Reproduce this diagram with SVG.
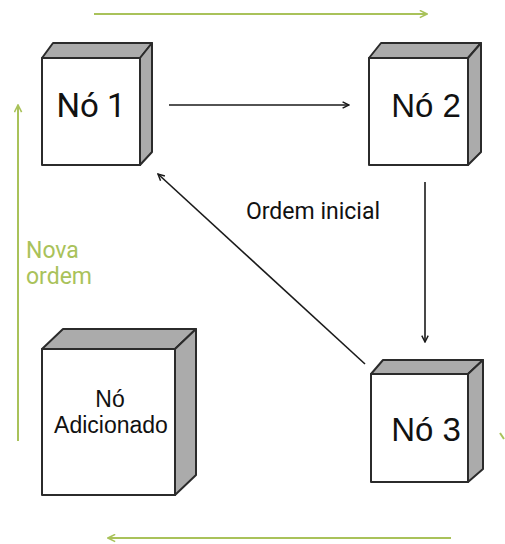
<svg xmlns="http://www.w3.org/2000/svg" width="505" height="544" viewBox="0 0 505 544">
  <defs>
    <style>
      .front { fill: #ffffff; stroke: #2b2b2b; stroke-width: 2; stroke-linejoin: round; }
      .shade { fill: #ababab; stroke: #2b2b2b; stroke-width: 2; stroke-linejoin: round; }
      .label { font-family: Roboto, "Liberation Sans", sans-serif; fill: #111111; text-anchor: middle; }
      .link { stroke: #1a1a1a; stroke-width: 1.6; fill: none; }
      .flow { stroke: #a9c25a; stroke-width: 2; fill: none; }
      .flowtext { font-family: Roboto, "Liberation Sans", sans-serif; font-size: 23px; fill: #a9c25a; }
    </style>
    <marker id="arrowBlack" viewBox="0 0 10 10" refX="9" refY="5" markerWidth="8" markerHeight="8" markerUnits="userSpaceOnUse" orient="auto">
      <path d="M1,1 L9,5 L1,9" fill="none" stroke="#1a1a1a" stroke-width="1.8"/>
    </marker>
    <marker id="arrowGreen" viewBox="0 0 10 10" refX="9" refY="5" markerWidth="9" markerHeight="9" markerUnits="userSpaceOnUse" orient="auto">
      <path d="M1,1 L9,5 L1,9" fill="none" stroke="#a9c25a" stroke-width="1.8"/>
    </marker>
  </defs>

  <rect width="505" height="544" fill="#ffffff"/>

  <!-- process order flow (green) -->
  <g id="flow">
    <line class="flow" x1="94" y1="14" x2="427" y2="14" marker-end="url(#arrowGreen)"/>
    <line class="flow" x1="18" y1="441" x2="18" y2="105" marker-end="url(#arrowGreen)"/>
    <line class="flow" x1="451" y1="538" x2="108" y2="538" marker-end="url(#arrowGreen)"/>
    <line class="flow" x1="500" y1="433" x2="504" y2="439"/>
    <text class="flowtext" x="26" y="258">Nova</text>
    <text class="flowtext" x="26" y="284">ordem</text>
  </g>

  <!-- connectors -->
  <g id="connectors">
    <line class="link" x1="169" y1="105" x2="349" y2="105" marker-end="url(#arrowBlack)"/>
    <line class="link" x1="425" y1="182" x2="425" y2="342" marker-end="url(#arrowBlack)"/>
    <line class="link" x1="365" y1="364" x2="158" y2="174" marker-end="url(#arrowBlack)"/>
    <text class="label" x="313" y="219" font-size="23">Ordem inicial</text>
  </g>

  <!-- node 1 -->
  <g id="node1">
    <polygon class="shade" points="42,58 53,43 152,43 140,58"/>
    <polygon class="shade" points="140,58 152,43 152,152 140,165"/>
    <rect class="front" x="42" y="58" width="98" height="107"/>
    <text class="label" x="91" y="117" font-size="33">Nó 1</text>
  </g>

  <!-- node 2 -->
  <g id="node2">
    <polygon class="shade" points="369,58 381,43 481,43 468,58"/>
    <polygon class="shade" points="468,58 481,43 481,152 468,165"/>
    <rect class="front" x="369" y="58" width="99" height="107"/>
    <text class="label" x="426" y="117" font-size="33" style="font-family:'Liberation Sans', Arial, sans-serif">Nó 2</text>
  </g>

  <!-- node 3 -->
  <g id="node3">
    <polygon class="shade" points="371,374 383,360 483,360 468,374"/>
    <polygon class="shade" points="468,374 483,360 483,469 468,482"/>
    <rect class="front" x="371" y="374" width="97" height="108"/>
    <text class="label" x="426" y="441" font-size="33" style="font-family:'Liberation Sans', Arial, sans-serif">Nó 3</text>
  </g>

  <!-- added node -->
  <g id="nodeAdded">
    <polygon class="shade" points="42,349 63,329 196,329 175,349"/>
    <polygon class="shade" points="175,349 196,329 196,475 175,495"/>
    <rect class="front" x="42" y="349" width="133" height="146"/>
    <text class="label" x="110" y="407" font-size="23" style="font-family:'Liberation Sans', Arial, sans-serif">Nó</text>
    <text class="label" x="111" y="433" font-size="23" style="font-family:'Liberation Sans', Arial, sans-serif">Adicionado</text>
  </g>
</svg>
